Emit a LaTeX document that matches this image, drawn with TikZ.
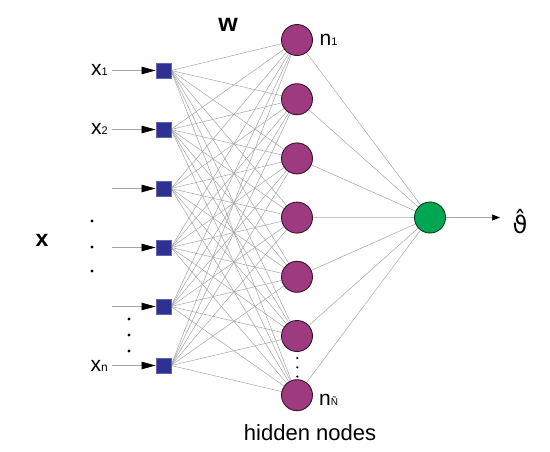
\documentclass[tikz,border=0pt]{standalone}
\usepackage{fontspec}
\usepackage{graphicx}
\setmainfont{Liberation Sans}
\newfontfamily\dejavu{DejaVu Sans}
\usetikzlibrary{arrows.meta}
\definecolor{inblue}{RGB}{46,49,146}
\definecolor{hidpurple}{RGB}{158,58,128}
\definecolor{outgreen}{RGB}{0,166,81}
\definecolor{wire}{RGB}{165,165,165}
\pgfdeclarelayer{background}
\pgfsetlayers{background,main}
\begin{document}
\begin{tikzpicture}[x=1pt,y=-1pt,
  inbox/.style={draw=inblue!75!white, fill=inblue, minimum size=15pt, inner sep=0pt, line width=0.5pt},
  hidnode/.style={circle, draw=hidpurple!35!black, fill=hidpurple, minimum size=31pt, inner sep=0pt, line width=0.9pt},
  outnode/.style={circle, draw=outgreen!35!black, fill=outgreen, minimum size=31pt, inner sep=0pt, line width=0.9pt},
  weight/.style={draw=wire, line width=0.5pt},
  inarrow/.style={draw=wire, line width=0.7pt, -{Triangle[length=14pt,width=7.5pt,color=black]}},
  outarrow/.style={draw=wire, line width=0.7pt, -{Triangle[length=8pt,width=6pt,color=black]}},
  lbl/.style={font=\fontsize{21}{21}\selectfont, inner sep=0pt},
  biglbl/.style={font=\fontsize{23}{23}\selectfont\bfseries, inner sep=0pt},
  dotmark/.style={circle, fill=black, inner sep=0pt, minimum size=3.2pt},
  smalldot/.style={circle, fill=black, inner sep=0pt, minimum size=2.4pt}
]
\useasboundingbox (0,0) rectangle (550,451);

% input squares
\foreach \i in {1,...,6} {
  \node[inbox] (in\i) at (163.3, {70.5+59*(\i-1)}) {};
  \coordinate (src\i) at (112, {70.5+59*(\i-1)});
  \draw[inarrow] (src\i) -- (in\i.west);
}
% hidden nodes
\foreach \j in {1,...,7} {
  \node[hidnode] (hid\j) at (297, {40+59.2*(\j-1)}) {};
}
% output node
\node[outnode] (out) at (430, 217.5) {};
\coordinate (yend) at (500, 217.5);
\draw[outarrow] (out) -- (yend);

\begin{pgfonlayer}{background}
  \foreach \i in {1,...,6} {
    \foreach \j in {1,...,7} {
      \draw[weight] (in\i.east) -- (hid\j);
    }
  }
  \foreach \j in {1,...,7} {
    \draw[weight] (hid\j) -- (out);
  }
\end{pgfonlayer}

% labels
\node[lbl, anchor=base east] (lx1) at (108, 75.5) {x{\fontsize{11}{11}\selectfont 1}};
\node[lbl, anchor=base east] (lx2) at (108, 134.5) {x{\fontsize{11}{11}\selectfont 2}};
\node[lbl, anchor=base east] (lxn) at (108, 371.5) {x{\fontsize{12}{12}\selectfont n}};
\node[biglbl, anchor=base] (lx) at (42, 246.5) {x};
\node[font=\fontsize{25}{25}\selectfont\bfseries, inner sep=0pt, anchor=base] (lw) at (228, 31.5) {w};
\node[lbl, anchor=base west] (ln1) at (319.5, 45.5) {n{\fontsize{11}{11}\selectfont 1}};
\node[lbl, anchor=base west] (lnN) at (319, 405) {n{\fontsize{10}{10}\selectfont Ñ}};
\node[font=\fontsize{22}{22}\selectfont, inner sep=0pt, anchor=base] (lhid) at (310, 440) {hidden nodes};
\node[font=\fontsize{24}{24}\selectfont\dejavu, inner sep=0pt, anchor=base] (lout) at (520, 233) {ϑ̂};

% dots
\foreach \y [count=\k] in {221,247,271} { \node[dotmark] (da\k) at (92, \y) {}; }
\foreach \y [count=\k] in {319,335,351} { \node[dotmark] (db\k) at (129, \y) {}; }
\foreach \y [count=\k] in {358,367.3,376.5} { \node[smalldot] (dc\k) at (297.3, \y) {}; }
\end{tikzpicture}
\end{document}
